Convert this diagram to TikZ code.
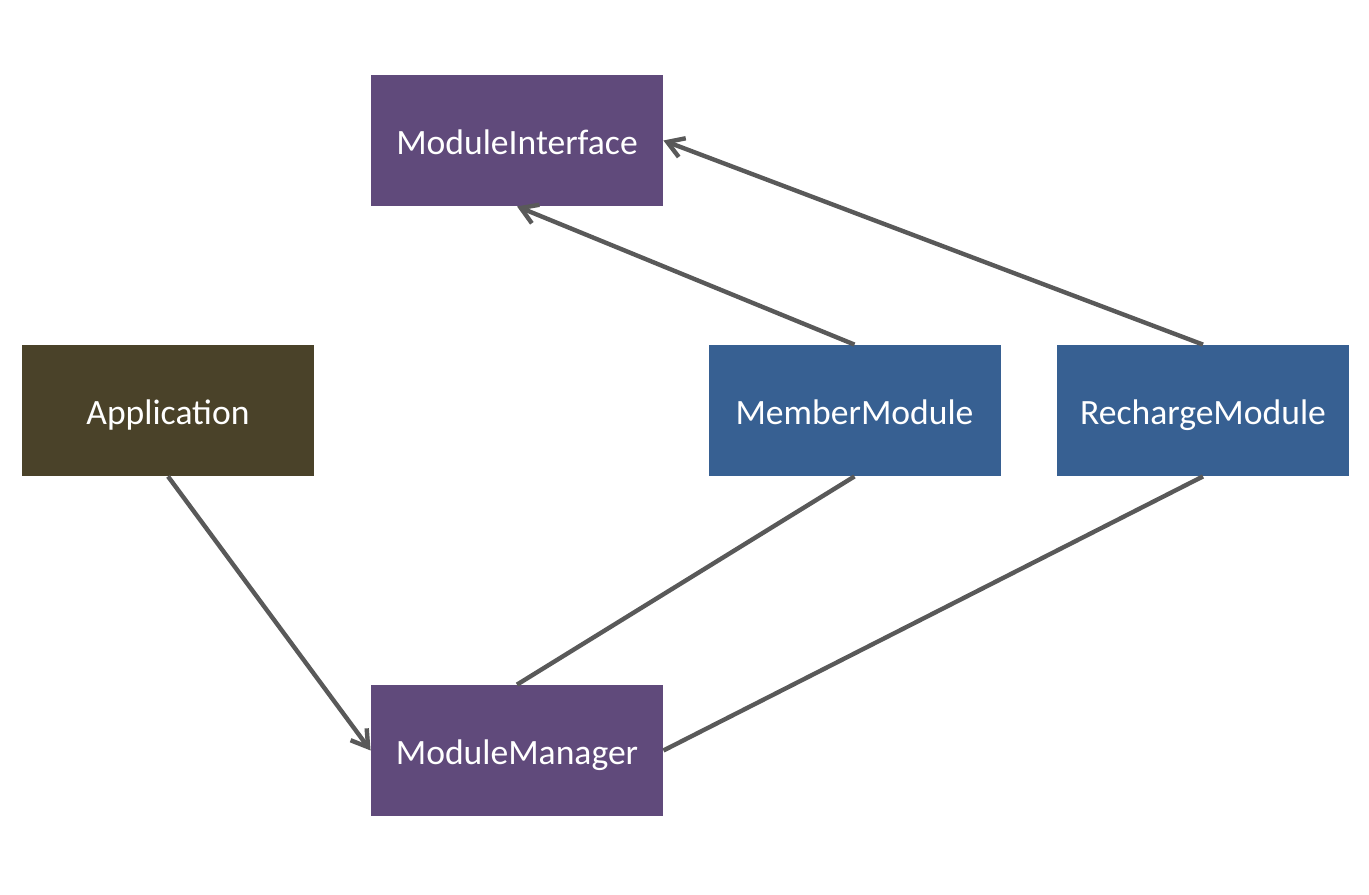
\documentclass[tikz,border=0pt]{standalone}
\usepackage{fontspec}
\setmainfont{Carlito}
\usetikzlibrary{arrows.meta}
\definecolor{purp}{HTML}{604A7B}
\definecolor{blu}{HTML}{376092}
\definecolor{oliv}{HTML}{4A4229}
\definecolor{lin}{HTML}{595959}
\begin{document}
\begin{tikzpicture}[x=0.5pt,y=-0.5pt,
  box/.style={rectangle,minimum width=146pt,minimum height=65.5pt,inner sep=0pt,text height=13.5pt,text depth=0pt,text=white,font=\fontsize{17.8}{20}\selectfont},
  conn/.style={draw=lin,line width=2.2pt},
  arr/.style={conn,-{Straight Barb[length=8pt,width=10pt,line width=2.2pt]}}]
\useasboundingbox (0,0) rectangle (1369,894);
\node[box,fill=purp] (mi) at (517,140.5) {ModuleInterface};
\node[box,fill=oliv] (app) at (168,410.5) {Application};
\node[box,fill=blu] (mem) at (854.5,410.5) {MemberModule};
\node[box,fill=blu] (rec) at (1203,410.5) {RechargeModule};
\node[box,fill=purp] (mgr) at (517,750.5) {ModuleManager};
\draw[arr] (app.south) -- (mgr.west);
\draw[arr] (mem.north) -- (mi.south);
\draw[arr] (rec.north) -- (mi.east);
\draw[conn] (mem.south) -- (mgr.north);
\draw[conn] (rec.south) -- (mgr.east);
\end{tikzpicture}
\end{document}
